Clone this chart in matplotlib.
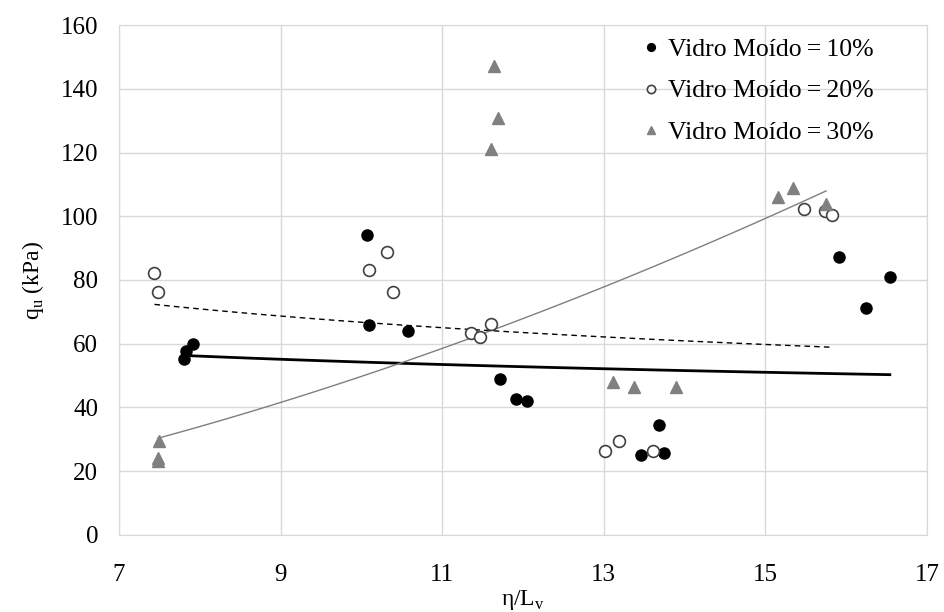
import numpy as np
import matplotlib
matplotlib.use("Agg")
import matplotlib.pyplot as plt

plt.rcParams["font.family"] = ["Liberation Serif", "DejaVu Serif"]
plt.rcParams["mathtext.fontset"] = "custom"
plt.rcParams["mathtext.rm"] = "Liberation Serif"

# Vidro Moido = 10%
x_10 = [7.80, 7.83, 7.92, 10.07, 10.10, 10.58, 11.71, 11.91, 12.05,
        13.46, 13.68, 13.75, 15.91, 16.24, 16.54]
y_10 = [55.3, 57.7, 59.9, 94.0, 66.0, 64.1, 48.8, 42.5, 41.9,
        25.1, 34.5, 25.7, 87.2, 71.2, 81.0]

# Vidro Moido = 20%
x_20 = [7.44, 7.48, 10.10, 10.32, 10.39, 11.36, 11.47, 11.60,
        13.02, 13.19, 13.61, 15.48, 15.74, 15.83]
y_20 = [82.2, 76.2, 83.0, 88.7, 76.3, 63.3, 62.1, 66.3,
        26.4, 29.4, 26.4, 102.4, 101.5, 100.4]

# Vidro Moido = 30%
x_30 = [7.48, 7.48, 7.50, 11.60, 11.64, 11.69, 13.12, 13.38, 13.89,
        15.16, 15.34, 15.75]
y_30 = [23.3, 24.0, 29.5, 121.0, 147.3, 130.7, 48.0, 46.4, 46.4,
        105.9, 108.8, 104.0]

labels = ["Vidro Moído\u2009=\u200910%", "Vidro Moído\u2009=\u200920%",
          "Vidro Moído\u2009=\u200930%"]


def power_trend(x, y):
    # same as an Excel power trendline: straight line in log-log space
    b, lna = np.polyfit(np.log(x), np.log(y), 1)
    xs = np.linspace(min(x), max(x), 100)
    return xs, np.exp(lna) * xs ** b


fig = plt.figure(figsize=(9.44, 6.12), dpi=100)
ax = fig.add_axes([0.126, 0.126, 0.856, 0.833])

grid_c = "#d9d9d9"
ax.grid(True, color=grid_c, lw=1)
ax.set_axisbelow(True)
for s in ax.spines.values():
    s.set_color(grid_c)

xs, ys = power_trend(x_10, y_10)
ax.plot(xs, ys, color="black", lw=2)
xs, ys = power_trend(x_20, y_20)
ax.plot(xs, ys, color="black", lw=1, ls=(0, (4, 3)))
xs, ys = power_trend(x_30, y_30)
ax.plot(xs, ys, color="#7f7f7f", lw=1)

ax.plot(x_10, y_10, "o", ms=8, color="black", label=labels[0])
ax.plot(x_20, y_20, "o", ms=8.5, mfc="white", mec="#404040", mew=1.2,
        label=labels[1])
ax.plot(x_30, y_30, "^", ms=9, color="#808080", label=labels[2])

ax.set_xlim(7, 17)
ax.set_ylim(0, 160)
ax.set_xticks(np.arange(7, 18, 2))
ax.set_yticks(np.arange(0, 161, 20))
ax.tick_params(axis="both", length=0, labelsize=18)
ax.tick_params(axis="x", pad=21)
ax.tick_params(axis="y", pad=15)

ax.set_ylabel(r"q$_\mathrm{u}$ (kPa)", fontsize=17)
ax.yaxis.set_label_coords(-0.09, 0.5)
ax.set_xlabel(r"η/L$_\mathrm{v}$", fontsize=17)
ax.xaxis.set_label_coords(0.5, -0.105)

leg = ax.legend(loc="upper right", bbox_to_anchor=(0.962, 1.02), frameon=False,
                fontsize=18.5, handletextpad=0.05, markerscale=0.7,
                labelspacing=0.72, handlelength=1.2)

fig.savefig("out.png", dpi=100)
